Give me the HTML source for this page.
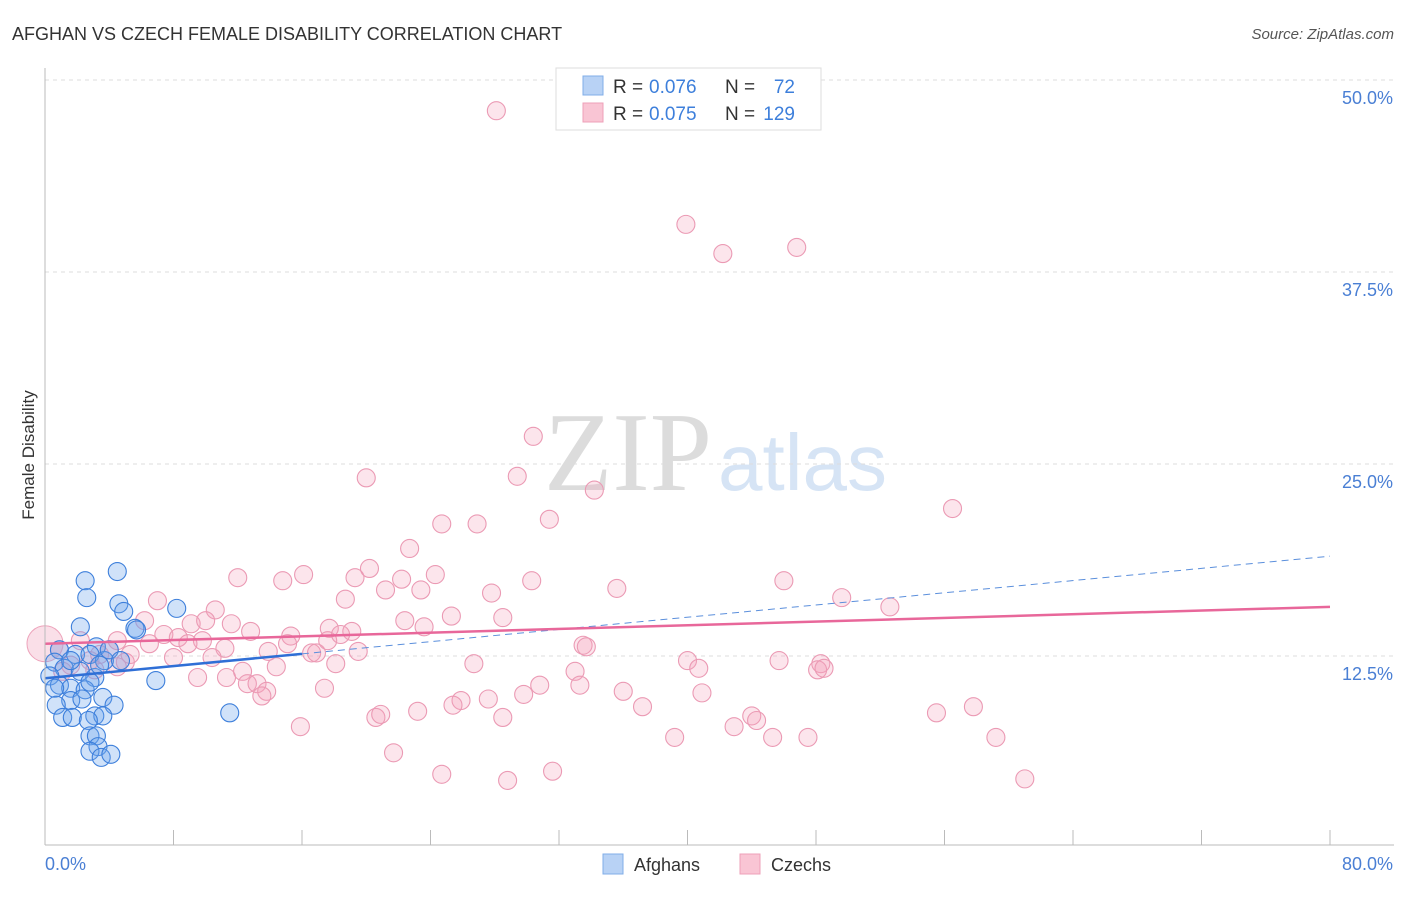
<!DOCTYPE html>
<html><head><meta charset="utf-8"><style>
body{margin:0;background:#fff;font-family:"Liberation Sans",sans-serif;}
svg text{font-family:"Liberation Sans",sans-serif;}
</style></head><body>
<svg id="chart" width="1406" height="892">
<text x="12" y="40" font-size="18" fill="#333">AFGHAN VS CZECH FEMALE DISABILITY CORRELATION CHART</text>
<text x="1394" y="39" font-size="15" fill="#555" font-style="italic" text-anchor="end">Source: ZipAtlas.com</text>
<text x="0" y="0" transform="translate(34,455) rotate(-90)" font-size="17" fill="#333" text-anchor="middle">Female Disability</text>
<text x="712" y="490" font-size="112" fill="#dcdcdc" style="font-family:'Liberation Serif',serif" text-anchor="end">ZIP</text>
<text x="718" y="490" font-size="80" fill="#d6e4f5">atlas</text>
<g id="grid"></g><g id="pts"></g><g id="lines"></g>
<line x1="45" y1="68" x2="45" y2="845" stroke="#bbb"/>
<line x1="45" y1="845" x2="1394" y2="845" stroke="#bbb"/>
<text x="45" y="870" font-size="18" fill="#4a7fd4">0.0%</text>
<text x="1393" y="870" font-size="18" fill="#4a7fd4" text-anchor="end">80.0%</text>
<g>
<rect x="556" y="68" width="265" height="62" fill="#fff" stroke="#ddd"/>
<rect x="583" y="76" width="20" height="19" fill="#b8d2f5" stroke="#80aee8"/>
<rect x="583" y="103" width="20" height="19" fill="#f9c5d4" stroke="#eea0b8"/>
<text x="613" y="93" font-size="19" fill="#333">R =</text>
<text x="649" y="93" font-size="19" fill="#3d7fdb">0.076</text>
<text x="725" y="93" font-size="19" fill="#333">N =</text>
<text x="795" y="93" font-size="19" fill="#3d7fdb" text-anchor="end">72</text>
<text x="613" y="120" font-size="19" fill="#333">R =</text>
<text x="649" y="120" font-size="19" fill="#3d7fdb">0.075</text>
<text x="725" y="120" font-size="19" fill="#333">N =</text>
<text x="795" y="120" font-size="19" fill="#3d7fdb" text-anchor="end">129</text>
</g>
<g>
<rect x="603" y="854" width="20" height="20" fill="#b8d2f5" stroke="#80aee8"/>
<text x="634" y="871" font-size="18" fill="#333">Afghans</text>
<rect x="740" y="854" width="20" height="20" fill="#f9c5d4" stroke="#eea0b8"/>
<text x="771" y="871" font-size="18" fill="#333">Czechs</text>
</g>
</svg>
<script>
const yTicks=[12.5,25,37.5,50];
const xTicks=[0,8,16,24,32,40,48,56,64,72,80];
const czechX=[28.1,39.9,42.2,46.8,30.4,20.0,29.4,34.2,24.7,26.9,31.4,56.5,22.7,12.0,14.8,16.1,19.3,20.2,22.2,24.3,21.2,23.4,18.7,27.8,30.3,35.6,46.0,49.6,52.6,7.0,10.6,6.2,9.1,11.6,10.0,12.8,22.4,23.6,25.3,28.5,17.7,19.1,7.4,8.3,9.8,15.3,15.1,17.6,18.4,6.5,8.9,11.2,13.9,16.6,16.9,19.5,10.4,8.0,33.5,33.7,5.0,4.5,14.4,26.7,18.1,40.0,40.7,45.7,48.3,48.1,48.5,33.0,9.5,11.3,12.3,12.6,13.2,13.8,13.5,17.4,30.8,33.3,36.0,40.9,29.8,25.9,27.6,25.4,23.2,37.2,28.5,20.6,20.9,15.9,42.9,44.0,44.3,55.5,57.8,39.2,45.3,47.5,59.2,21.7,24.7,28.8,31.6,61.0,2.8,3.4,1.6,0.9,4.0,5.3,2.2,3.1,4.5,1.1];
const czechY=[48.0,40.6,38.7,39.1,26.8,24.1,24.2,23.3,21.1,21.1,21.4,22.1,19.5,17.6,17.4,17.8,17.6,18.2,17.5,17.8,16.8,16.8,16.2,16.6,17.4,16.9,17.4,16.3,15.7,16.1,15.5,14.8,14.6,14.6,14.8,14.1,14.8,14.4,15.1,15.0,14.3,14.1,13.9,13.7,13.5,13.8,13.3,13.5,13.9,13.3,13.3,13.0,12.8,12.7,12.7,12.8,12.4,12.4,13.2,13.1,12.1,11.8,11.8,12.0,12.0,12.2,11.7,12.2,12.0,11.6,11.7,11.5,11.1,11.1,11.5,10.7,10.7,10.2,9.9,10.4,10.6,10.6,10.2,10.1,10.0,9.6,9.7,9.3,8.9,9.2,8.5,8.5,8.7,7.9,7.9,8.6,8.3,8.8,9.2,7.2,7.2,7.2,7.2,6.2,4.8,4.4,5.0,4.5,12.2,12.6,11.9,12.9,12.9,12.6,13.5,11.6,13.5,11.5];
const afghanX=[4.5,2.5,2.6,4.6,4.9,8.2,2.2,5.6,5.7,3.2,0.9,1.9,2.8,3.7,0.6,1.2,2.2,0.3,3.1,0.9,1.6,2.5,0.6,2.8,6.9,3.6,1.6,2.3,0.7,4.3,1.1,1.7,3.1,3.6,2.7,11.5,2.8,3.2,3.3,2.8,3.5,4.1,1.6,3.4,4.0,4.7];
const afghanY=[18.0,17.4,16.3,15.9,15.4,15.6,14.4,14.3,14.2,13.1,12.9,12.6,12.6,12.2,12.1,11.7,11.5,11.2,11.1,10.6,10.4,10.3,10.4,10.8,10.9,9.8,9.6,9.7,9.3,9.3,8.5,8.5,8.6,8.6,8.3,8.8,7.3,7.3,6.6,6.3,5.9,6.1,12.2,11.9,12.9,12.2];
const czechTrend=[13.3,15.7];
const afghanTrend=[11.05,19.0];
const NS='http://www.w3.org/2000/svg';
const X=v=>45+v/80*1285, Y=v=>848-v*15.36;
function mk(t,a,p){const e=document.createElementNS(NS,t);for(const k in a)e.setAttribute(k,a[k]);p.appendChild(e);return e;}
const grid=document.getElementById('grid'),pts=document.getElementById('pts'),lines=document.getElementById('lines');
yTicks.forEach(t=>{
const l=mk('line',{x1:45,x2:1394,y1:Y(t),y2:Y(t),stroke:'#ddd','stroke-dasharray':'4,4'},grid);


const tx=mk('text',{x:1393,y:Y(t)+24,'font-size':18,fill:'#4a7fd4','text-anchor':'end'},grid);
tx.textContent=t.toFixed(1)+'%';


});
xTicks.forEach(t=>{
const l=mk('line',{x1:X(t),x2:X(t),y1:830,y2:845,stroke:'#bbb'},grid);


});
const big=mk('circle',{cx:X(0),cy:Y(13.3),r:18,fill:'rgba(240,150,180,0.3)',stroke:'#eda3bb'},pts);


czechX.forEach((x,i)=>{
const c=mk('circle',{cx:X(x),cy:Y(czechY[i]),r:9,fill:'rgba(244,160,188,0.28)',stroke:'#eb9ab4','stroke-width':1.1},pts);


});
afghanX.forEach((x,i)=>{
const c=mk('circle',{cx:X(x),cy:Y(afghanY[i]),r:9,fill:'rgba(110,165,235,0.32)',stroke:'#3d7fdb','stroke-width':1.1},pts);


});
const ay=x=>afghanTrend[0]+(afghanTrend[1]-afghanTrend[0])*x/80;
const l1=mk('line',{x1:X(0),y1:Y(ay(0)),x2:X(16),y2:Y(ay(16)),stroke:'#2f6fd6','stroke-width':2.5},lines);


const l2=mk('line',{x1:X(16),y1:Y(ay(16)),x2:X(80),y2:Y(ay(80)),stroke:'#5b8fdc','stroke-width':1,'stroke-dasharray':'7,5'},lines);


const l3=mk('line',{x1:X(0),y1:Y(czechTrend[0]),x2:X(80),y2:Y(czechTrend[1]),stroke:'#e8679a','stroke-width':2.5},lines);


</script>
</body></html>
